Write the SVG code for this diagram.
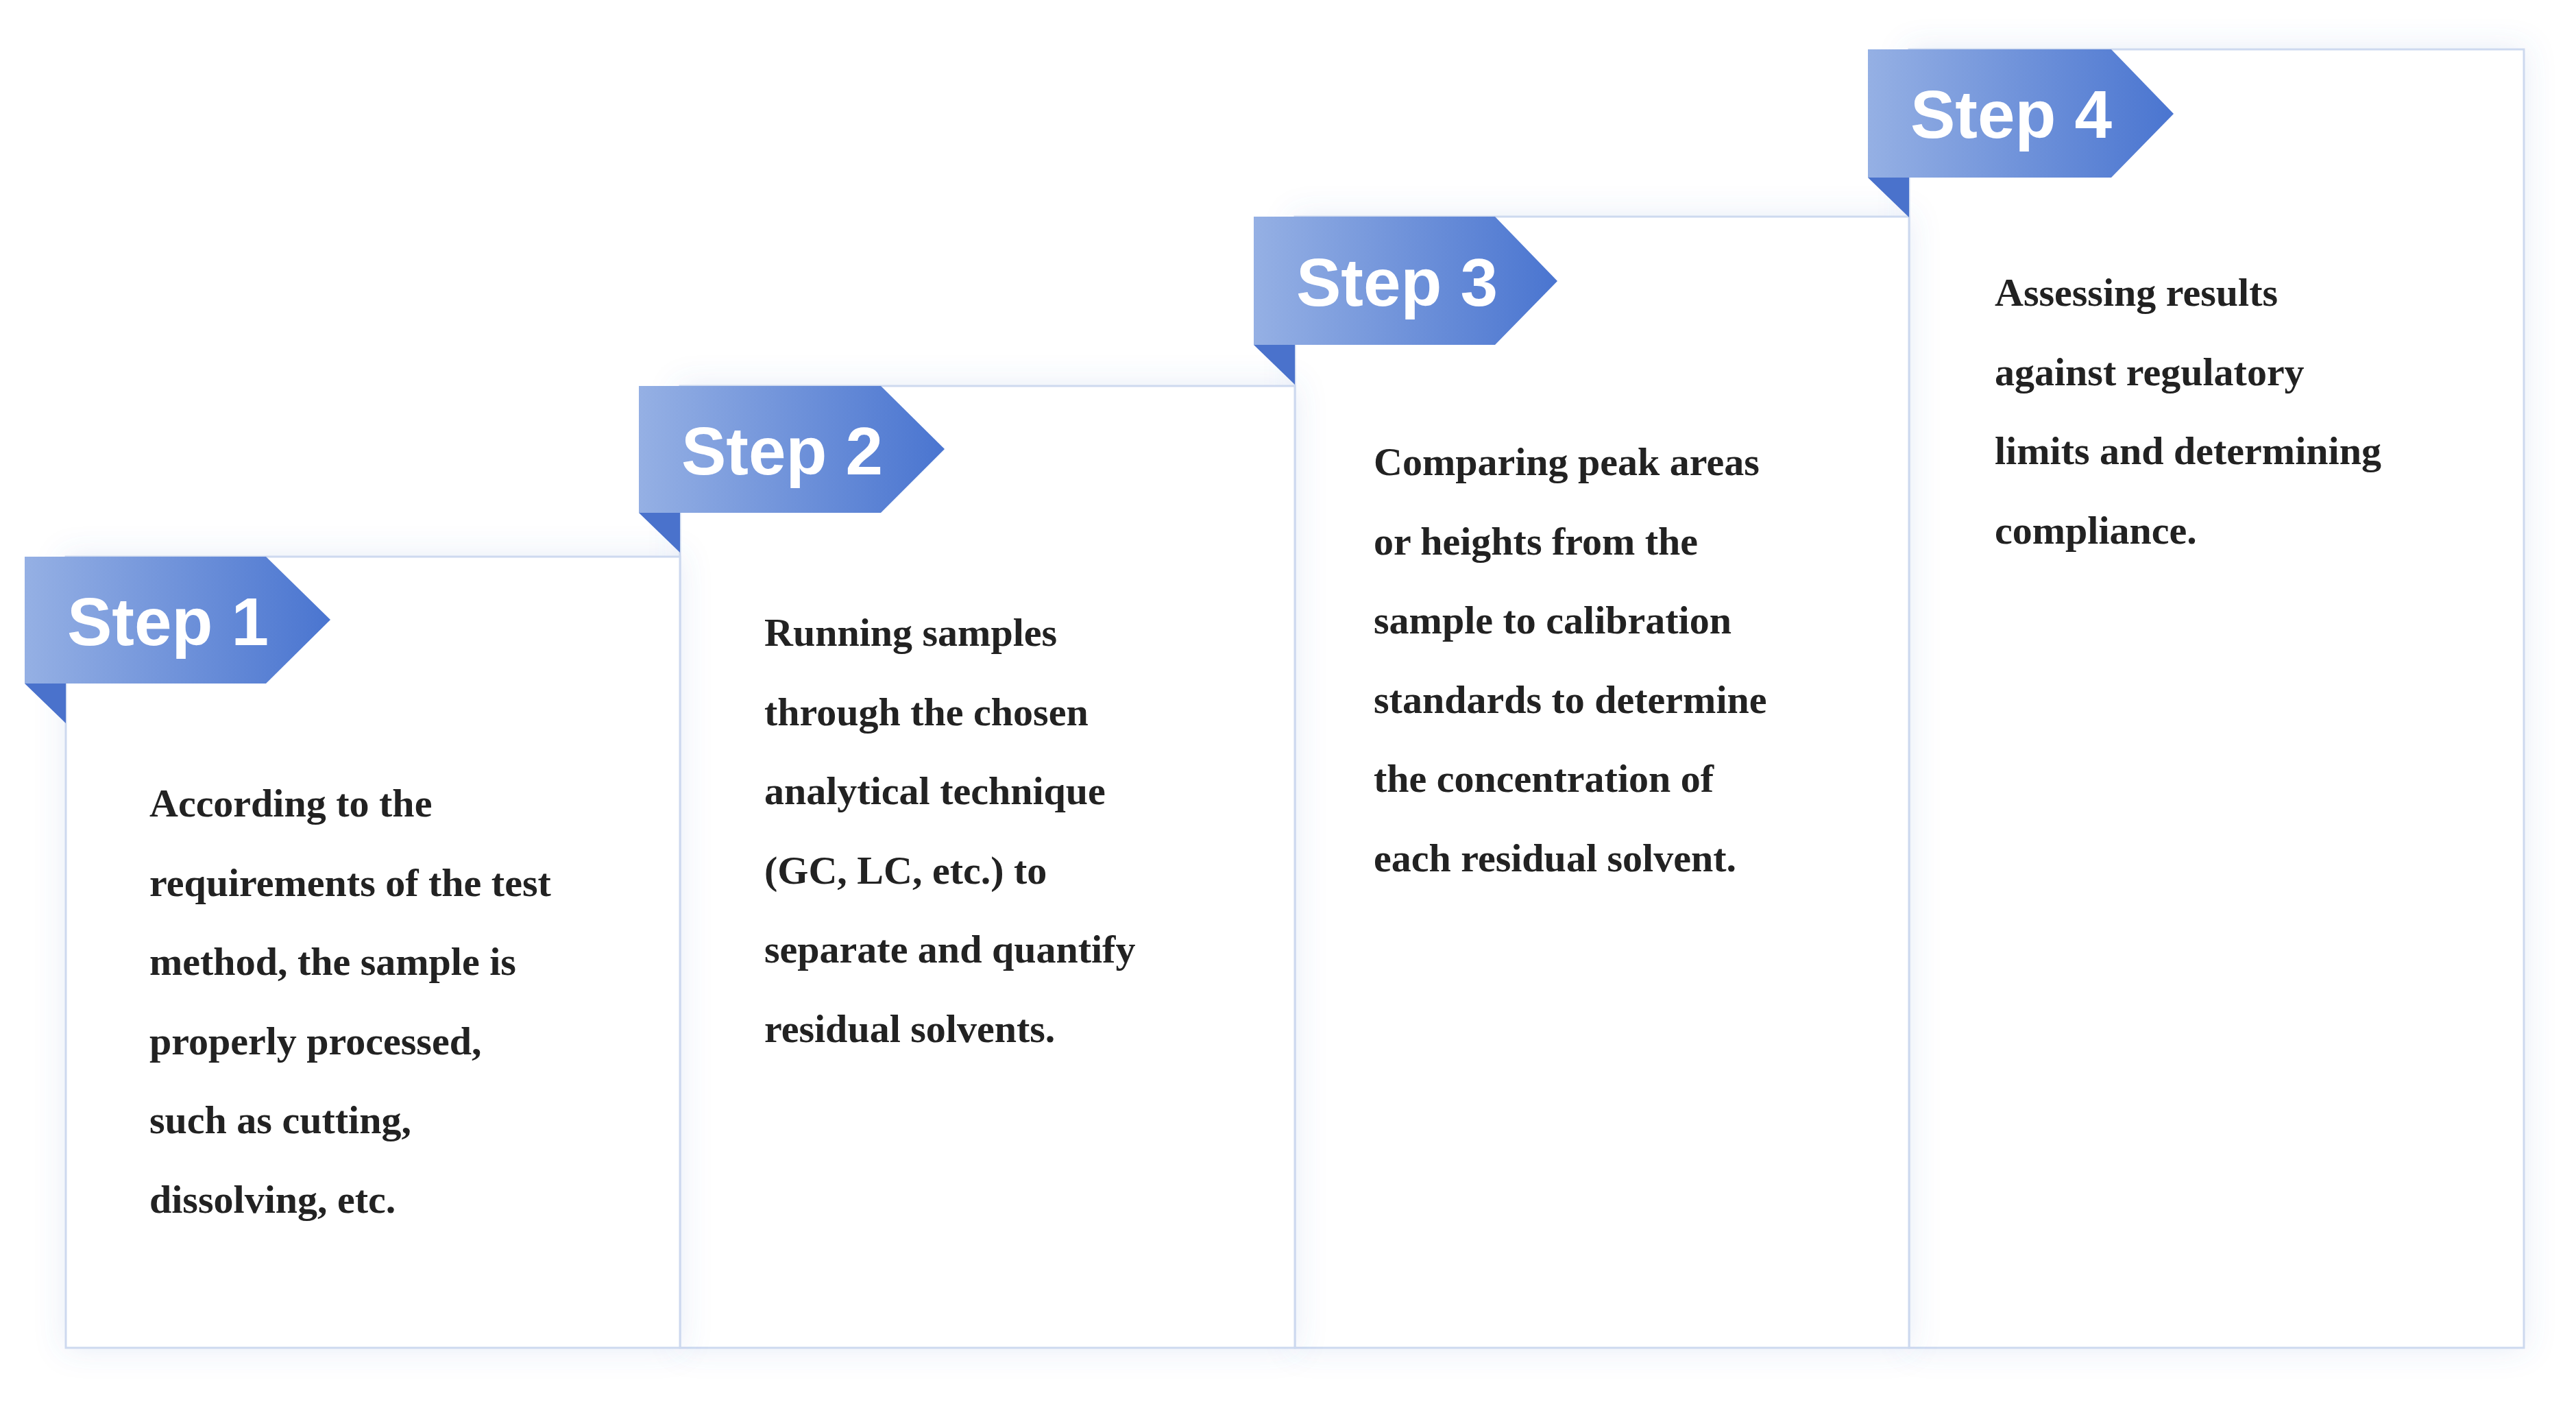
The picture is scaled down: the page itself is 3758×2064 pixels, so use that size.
<svg xmlns="http://www.w3.org/2000/svg" width="3758" height="2064" viewBox="0 0 3758 2064">
<defs>
<linearGradient id="bg" x1="0" y1="0" x2="1" y2="0"><stop offset="0" stop-color="#95b0e4"/><stop offset="1" stop-color="#4a75d0"/></linearGradient>
<filter id="sh" x="-20%" y="-20%" width="140%" height="140%"><feGaussianBlur in="SourceAlpha" stdDeviation="22"/><feComponentTransfer><feFuncA type="linear" slope="0.12"/></feComponentTransfer><feFlood flood-color="#5a7fd0"/><feComposite operator="in" in2="SourceGraphic"/><feMerge><feMergeNode/><feMergeNode in="SourceGraphic"/></feMerge></filter>
<filter id="sh2" x="-20%" y="-20%" width="140%" height="140%"><feGaussianBlur in="SourceAlpha" stdDeviation="22" result="b"/><feFlood flood-color="#4f74c8" flood-opacity="0.14"/><feComposite operator="in" in2="b"/><feMerge><feMergeNode/><feMergeNode in="SourceGraphic"/></feMerge></filter>
</defs>
<style>
.card{fill:#fff;stroke:#cdd9ef;stroke-width:3}
.ban{fill:url(#bg)}
.fold{fill:#4a72cc}
.st{font-family:"Liberation Sans",Arial,sans-serif;font-weight:bold;font-size:98px;fill:#fff}
.tx{font-family:"Liberation Serif","Times New Roman",serif;font-weight:bold;font-size:58px;fill:#222}
</style>
<rect width="3758" height="2064" fill="#fff"/>
<g id="step4"><rect class="card" x="2785" y="72" width="897" height="1894" filter="url(#sh2)"/></g>
<g id="step3"><rect class="card" x="1889" y="316" width="896" height="1650" filter="url(#sh2)"/></g>
<g id="step2"><rect class="card" x="992" y="563" width="897" height="1403" filter="url(#sh2)"/></g>
<g id="step1"><rect class="card" x="96" y="812" width="896" height="1154" filter="url(#sh2)"/>
<polygon class="fold" points="36,997 96,997 96,1055"/>
<polygon class="ban" points="36,812 388,812 482,904 388,997 36,997"/>
<text class="st" x="98" y="941">Step 1</text>
<text class="tx" x="218"><tspan x="218" y="1191">According to the</tspan><tspan x="218" y="1307">requirements of the test</tspan><tspan x="218" y="1422">method, the sample is</tspan><tspan x="218" y="1538">properly processed,</tspan><tspan x="218" y="1653">such as cutting,</tspan><tspan x="218" y="1769">dissolving, etc.</tspan></text>
</g>
<g id="step2b">
<polygon class="fold" points="932,748 992,748 992,806"/>
<polygon class="ban" points="932,563 1285,563 1378,655 1285,748 932,748"/>
<text class="st" x="994" y="692">Step 2</text>
<text class="tx"><tspan x="1115" y="942">Running samples</tspan><tspan x="1115" y="1058">through the chosen</tspan><tspan x="1115" y="1173">analytical technique</tspan><tspan x="1115" y="1289">(GC, LC, etc.) to</tspan><tspan x="1115" y="1404">separate and quantify</tspan><tspan x="1115" y="1520">residual solvents.</tspan></text>
</g>
<g id="step3b">
<polygon class="fold" points="1829,503 1889,503 1889,561"/>
<polygon class="ban" points="1829,316 2181,316 2272,410 2181,503 1829,503"/>
<text class="st" x="1891" y="446">Step 3</text>
<text class="tx"><tspan x="2004" y="693">Comparing peak areas</tspan><tspan x="2004" y="809">or heights from the</tspan><tspan x="2004" y="924">sample to calibration</tspan><tspan x="2004" y="1040">standards to determine</tspan><tspan x="2004" y="1155">the concentration of</tspan><tspan x="2004" y="1271">each residual solvent.</tspan></text>
</g>
<g id="step4b">
<polygon class="fold" points="2725,259 2785,259 2785,317"/>
<polygon class="ban" points="2725,72 3080,72 3171,166 3080,259 2725,259"/>
<text class="st" x="2787" y="201">Step 4</text>
<text class="tx"><tspan x="2910" y="446">Assessing results</tspan><tspan x="2910" y="562">against regulatory</tspan><tspan x="2910" y="677">limits and determining</tspan><tspan x="2910" y="793">compliance.</tspan></text>
</g>
<g id="connectors"/>
</svg>
